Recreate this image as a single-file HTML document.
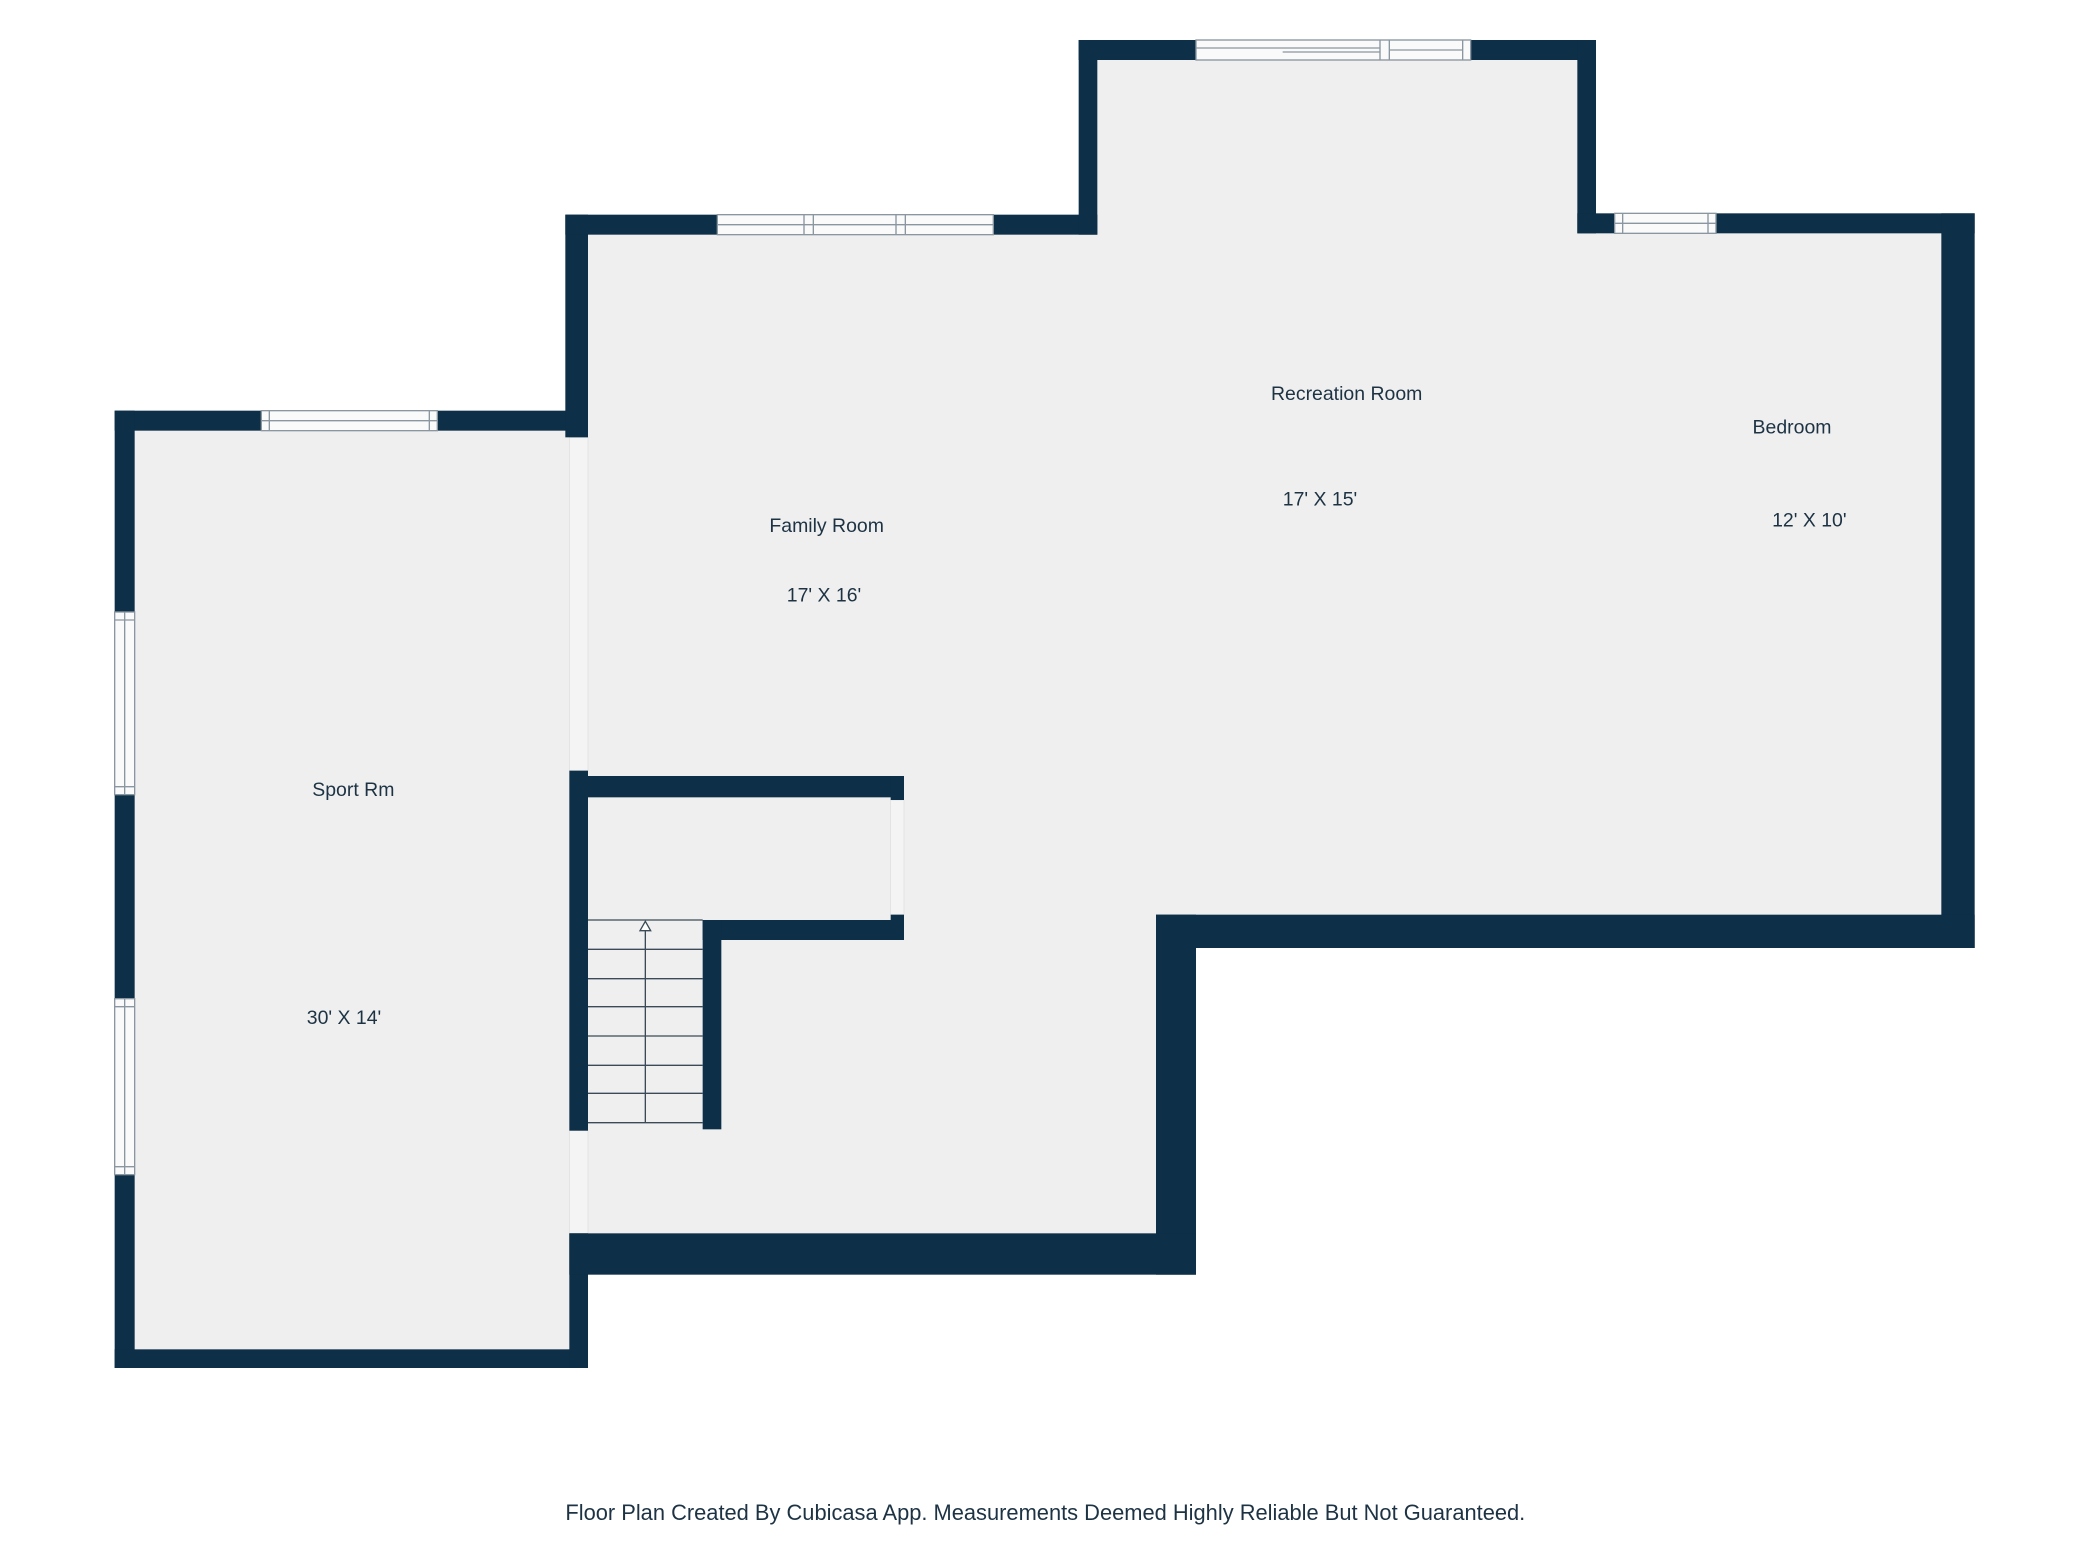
<!DOCTYPE html>
<html><head><meta charset="utf-8"><style>
html,body{margin:0;padding:0;background:#fff;}
svg{display:block;}
text{font-family:"Liberation Sans",sans-serif;fill:#1d3344;font-size:14.6px;}
</style></head><body>
<svg width="2080" height="1560" viewBox="0 0 1560 1170" xmlns="http://www.w3.org/2000/svg">
<rect width="1560" height="1170" fill="#fff"/>
<rect x="101" y="323" width="326" height="689" fill="#efefef"/>
<polygon points="441,176 823,176 823,45 1183,45 1183,175 1456,175 1456,686 867,686 867,925 441,925" fill="#efefef"/>
<rect x="427" y="328" width="14" height="250" fill="#f4f4f4" stroke="#ddd" stroke-width="0.5"/>
<rect x="427" y="848" width="14" height="77" fill="#f4f4f4" stroke="#ddd" stroke-width="0.5"/>
<rect x="668" y="600" width="10" height="86" fill="#f4f4f4" stroke="#ddd" stroke-width="0.5"/>
<g fill="#0d2f47">
<rect x="86" y="308" width="355" height="15"/>
<rect x="86" y="308" width="15" height="718"/>
<rect x="86" y="1012" width="355" height="14"/>
<rect x="427" y="925" width="14" height="101"/>
<rect x="424" y="161" width="17" height="167"/>
<rect x="424" y="161" width="399" height="15"/>
<rect x="809" y="30" width="14" height="146"/>
<rect x="809" y="30" width="388" height="15"/>
<rect x="1183" y="30" width="14" height="145"/>
<rect x="1183" y="160" width="298" height="15"/>
<rect x="1456" y="160" width="25" height="551"/>
<rect x="867" y="686" width="614" height="25"/>
<rect x="867" y="686" width="30" height="270"/>
<rect x="427" y="925" width="470" height="31"/>
<rect x="427" y="578" width="14" height="270"/>
<rect x="441" y="582" width="237" height="16"/>
<rect x="668" y="582" width="10" height="18"/>
<rect x="668" y="686" width="10" height="19"/>
<rect x="527" y="690" width="151" height="15"/>
<rect x="527" y="690" width="14" height="157"/>
</g>
<g fill="#fafafa" stroke="#8a96a0" stroke-width="1">
<rect x="538" y="161" width="207" height="15"/>
<line x1="538" y1="168.5" x2="745" y2="168.5"/>
<line x1="603" y1="161" x2="603" y2="176"/><line x1="610" y1="161" x2="610" y2="176"/>
<line x1="672" y1="161" x2="672" y2="176"/><line x1="679" y1="161" x2="679" y2="176"/>
<rect x="897" y="30" width="206" height="15"/>
<line x1="897" y1="36" x2="1035" y2="36"/><line x1="962" y1="39" x2="1035" y2="39"/>
<line x1="1035" y1="30" x2="1035" y2="45"/><line x1="1042" y1="30" x2="1042" y2="45"/><line x1="1097" y1="30" x2="1097" y2="45"/>
<line x1="1042" y1="37.5" x2="1097" y2="37.5"/>
<rect x="1211" y="160" width="76" height="15"/>
<line x1="1211" y1="167.5" x2="1287" y2="167.5"/>
<line x1="1217" y1="160" x2="1217" y2="175"/><line x1="1281" y1="160" x2="1281" y2="175"/>
<rect x="196" y="308" width="132" height="15"/>
<line x1="196" y1="315.5" x2="328" y2="315.5"/>
<line x1="202" y1="308" x2="202" y2="323"/><line x1="322" y1="308" x2="322" y2="323"/>
<rect x="86" y="459" width="15" height="137"/>
<line x1="93.5" y1="459" x2="93.5" y2="596"/>
<line x1="86" y1="465" x2="101" y2="465"/><line x1="86" y1="590" x2="101" y2="590"/>
<rect x="86" y="749" width="15" height="132"/>
<line x1="93.5" y1="749" x2="93.5" y2="881"/>
<line x1="86" y1="755" x2="101" y2="755"/><line x1="86" y1="875" x2="101" y2="875"/>
</g>
<g stroke="#3a4a56" stroke-width="1" fill="none">
<line x1="441" y1="690" x2="527" y2="690"/>
<line x1="441" y1="712" x2="527" y2="712"/>
<line x1="441" y1="734" x2="527" y2="734"/>
<line x1="441" y1="755" x2="527" y2="755"/>
<line x1="441" y1="777" x2="527" y2="777"/>
<line x1="441" y1="799" x2="527" y2="799"/>
<line x1="441" y1="820" x2="527" y2="820"/>
<line x1="441" y1="842" x2="527" y2="842"/>
<line x1="484" y1="692" x2="484" y2="842"/>
<polygon points="480,698 484,691 488,698" fill="#fff"/>
</g>
<text x="1010" y="300" text-anchor="middle">Recreation Room</text>
<text x="990" y="379" text-anchor="middle">17' X 15'</text>
<text x="1344" y="325" text-anchor="middle">Bedroom</text>
<text x="1357" y="395" text-anchor="middle">12' X 10'</text>
<text x="620" y="399" text-anchor="middle">Family Room</text>
<text x="618" y="451" text-anchor="middle">17' X 16'</text>
<text x="265" y="597" text-anchor="middle">Sport Rm</text>
<text x="258" y="768" text-anchor="middle">30' X 14'</text>
<text x="784" y="1140" text-anchor="middle" style="font-size:16.4px">Floor Plan Created By Cubicasa App. Measurements Deemed Highly Reliable But Not Guaranteed.</text>
</svg>
</body></html>
